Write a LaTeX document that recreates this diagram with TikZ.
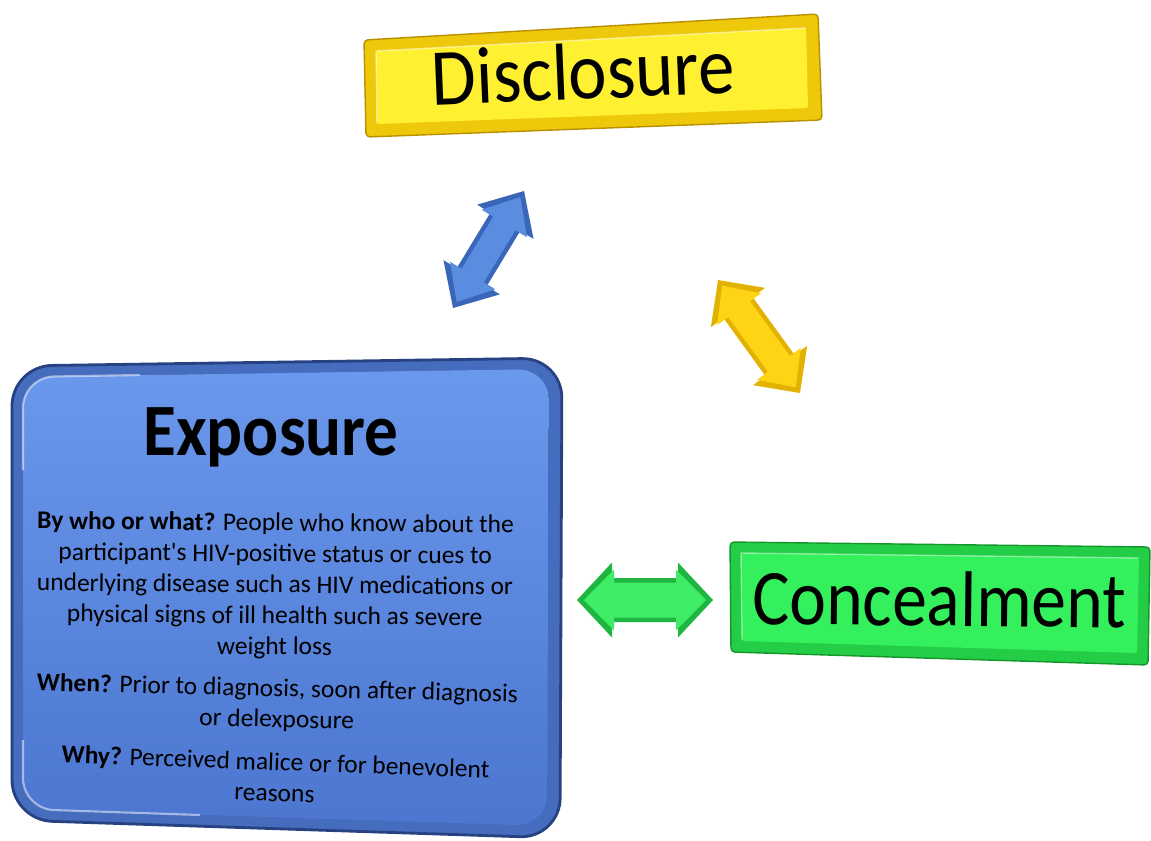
\documentclass[tikz,border=0pt]{standalone}
\usepackage{fontspec}
\setmainfont{Carlito}
\usetikzlibrary{calc}

\definecolor{yface}{RGB}{255,240,50}
\definecolor{yrim}{RGB}{238,200,10}
\definecolor{yedge}{RGB}{185,145,0}
\definecolor{bfacetop}{RGB}{106,152,236}
\definecolor{bfacebot}{RGB}{76,118,208}
\definecolor{brim}{RGB}{70,108,190}
\definecolor{bedge}{RGB}{38,66,130}
\definecolor{gface}{RGB}{52,240,92}
\definecolor{grim}{RGB}{36,205,70}
\definecolor{gedge}{RGB}{20,150,45}
\definecolor{barrow}{RGB}{90,140,224}
\definecolor{barrowrim}{RGB}{58,102,186}
\definecolor{yarrow}{RGB}{255,212,22}
\definecolor{yarrowrim}{RGB}{226,178,0}
\definecolor{garrow}{RGB}{62,236,102}
\definecolor{garrowrim}{RGB}{30,182,64}

% block double arrow between two named coordinates
% #1 tip A, #2 tip B, #3 head length, #4 head half width, #5 shaft half width, #6 style
\newcommand{\blockarrow}[6]{%
  \path[#6] (#1)
    -- ($(#1)!#3!(#2)!#4!90:(#2)$)
    -- ($(#1)!#3!(#2)!#5!90:(#2)$)
    -- ($(#2)!#3!(#1)!#5!-90:(#1)$)
    -- ($(#2)!#3!(#1)!#4!-90:(#1)$)
    -- (#2)
    -- ($(#2)!#3!(#1)!#4!90:(#1)$)
    -- ($(#2)!#3!(#1)!#5!90:(#1)$)
    -- ($(#1)!#3!(#2)!#5!-90:(#2)$)
    -- ($(#1)!#3!(#2)!#4!-90:(#2)$)
    -- cycle;}

\begin{document}
\begin{tikzpicture}[x=0.02cm,y=-0.02cm,
  title/.style={inner sep=0pt, anchor=base, text=black},
  body/.style={inner sep=0pt, align=center, text=black,
    font=\fontsize{14.5}{17.6}\selectfont},
  frame/.style={rounded corners=0.08cm, line width=0.8pt}]
\useasboundingbox (0,0) rectangle (1151,840);

% ---------- Disclosure box ----------
\filldraw[frame, fill=yrim, draw=yedge] (364,40) -- (818,14) -- (822,120) -- (366,137) -- cycle;
\fill[yface, rounded corners=0.05cm] (376,51) -- (806,28) -- (808,108) -- (377,124) -- cycle;
\draw[white, opacity=0.5, line width=0.8pt] (377,123) -- (376,51) -- (806,28);
\node[title, rotate=2.4, font=\fontsize{46}{50}\selectfont] (disc) at (584,99)
  {\scalebox{0.9}[1]{Disclosure}};

% ---------- Concealment box ----------
\filldraw[frame, fill=grim, draw=gedge] (730,542) -- (1150,547) -- (1148,665) -- (731,652) -- cycle;
\fill[gface, rounded corners=0.05cm] (741,553) -- (1139,558) -- (1137,653) -- (742,641) -- cycle;
\draw[white, opacity=0.45, line width=0.8pt] (742,640) -- (741,553) -- (1139,558);
\node[title, rotate=-0.6, font=\fontsize{45}{50}\selectfont] (conc) at (939,626)
  {\scalebox{0.88}[1]{Concealment}};

% ---------- Exposure box ----------
\filldraw[rounded corners=0.8cm, fill=brim, draw=bedge, line width=1.6pt]
  (12,366) -- (562,358) -- (560,838) -- (12,820) -- cycle;
\shade[rounded corners=0.62cm, top color=bfacetop, bottom color=bfacebot]
  (23,377) -- (549,369) -- (547,826) -- (23,809) -- cycle;
\draw[white, opacity=0.5, line width=1.2pt, rounded corners=0.62cm]
  (23,470) -- (23,377) -- (140,375);
\draw[white, opacity=0.5, line width=1.2pt, rounded corners=0.62cm]
  (23,740) -- (23,809) -- (200,815);
\node[title, font=\fontsize{42}{48}\selectfont\bfseries] (expo) at (271,455)
  {\scalebox{0.91}[1]{Exposure}};
\node[body, rotate=-0.5] (expo1) at (275,586)
  {\textbf{By who or what?} People who know about the\\
   participant\textquotesingle s HIV-positive status or cues to\\
   underlying disease such as HIV medications or\\
   physical signs of ill health such as severe\\
   weight loss};
\node[body, rotate=-1.4] (expo2) at (277,705)
  {\textbf{When?} Prior to diagnosis, soon after diagnosis\\
   or delexposure};
\node[body, rotate=-2.0] (expo3) at (275,777)
  {\textbf{Why?} Perceived malice or for benevolent\\
   reasons};

% ---------- block arrows ----------
% blue: Exposure <-> Disclosure
\coordinate (bA) at (453,308);
\coordinate (bB) at (524,191);
\coordinate (bAi) at ($(bA)!0.14cm!(bB)$);
\coordinate (bBi) at ($(bB)!0.14cm!(bA)$);
\blockarrow{bA}{bB}{0.72cm}{0.66cm}{0.35cm}{fill=barrowrim}
\blockarrow{bAi}{bBi}{0.62cm}{0.53cm}{0.26cm}{fill=barrow}

% yellow: Disclosure <-> Concealment
\coordinate (yA) at (718,280);
\coordinate (yB) at (800,393);
\coordinate (yAi) at ($(yA)!0.14cm!(yB)$);
\coordinate (yBi) at ($(yB)!0.14cm!(yA)$);
\blockarrow{yA}{yB}{0.68cm}{0.67cm}{0.36cm}{fill=yarrowrim}
\blockarrow{yAi}{yBi}{0.58cm}{0.54cm}{0.27cm}{fill=yarrow}

% green: Exposure <-> Concealment
\coordinate (gA) at (577,600);
\coordinate (gB) at (713,600);
\coordinate (gAi) at ($(gA)!0.14cm!(gB)$);
\coordinate (gBi) at ($(gB)!0.14cm!(gA)$);
\blockarrow{gA}{gB}{0.70cm}{0.75cm}{0.44cm}{fill=garrowrim}
\blockarrow{gAi}{gBi}{0.60cm}{0.61cm}{0.35cm}{fill=garrow}
\end{tikzpicture}
\end{document}
